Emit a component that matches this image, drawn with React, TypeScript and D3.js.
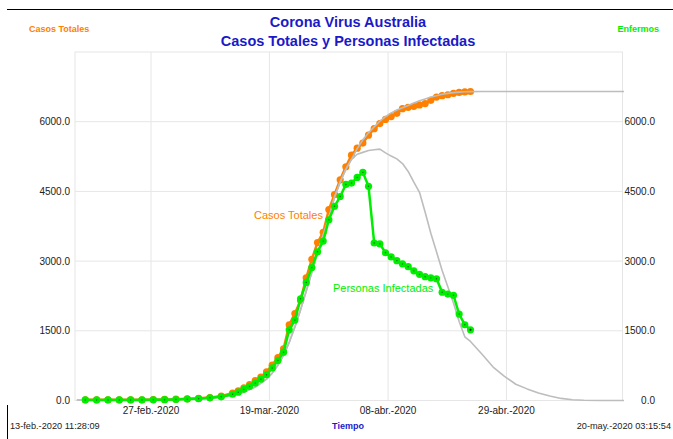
import React from "react";
import * as d3 from "d3";

// Observed data (day index since 13-feb-2020)
const obsDays = [2, 4, 6, 8, 10, 12, 14, 16, 18, 20, 22, 24, 26, 28, 29, 30, 31, 32, 33, 34, 35, 36, 37, 38, 39, 40, 41, 42, 43, 44, 45, 46, 47, 48, 49, 50, 51, 52, 53, 54, 55, 56, 57, 58, 59, 60, 61, 62, 63, 64, 65, 66, 67, 68, 69, 70];
const casosTotales = [15, 15, 15, 15, 15, 15, 20, 23, 28, 38, 48, 62, 95, 160, 210, 270, 340, 430, 505, 615, 760, 925, 1110, 1630, 1870, 2150, 2640, 3040, 3400, 3620, 4110, 4430, 4750, 5030, 5280, 5430, 5540, 5710, 5850, 5960, 6050, 6110, 6180, 6280, 6310, 6330, 6360, 6390, 6460, 6530, 6560, 6580, 6610, 6630, 6640, 6650];
const personasInfectadas = [12, 12, 12, 12, 12, 12, 14, 17, 22, 30, 40, 58, 80, 135, 180, 240, 305, 375, 460, 555, 700, 860, 1040, 1520, 1730, 2190, 2540, 2860, 3200, 3430, 3890, 4180, 4390, 4650, 4680, 4800, 4910, 4610, 3390, 3370, 3180, 3090, 3010, 2940, 2880, 2790, 2715, 2665, 2640, 2620, 2330, 2290, 2265, 1860, 1630, 1520];

// Model (simulation) curves
const modelDays = [0.5, 5, 10, 15, 20, 22, 24, 26, 28, 30, 32, 34, 35, 36, 37, 38, 39, 40, 41, 42, 43, 44, 45, 46, 47, 48, 49, 50, 51, 52, 53, 54, 55, 56, 57, 58, 59, 60, 61, 62, 63, 64, 65, 66, 67, 68, 69, 70, 72, 74, 76, 78, 80, 82, 84, 86, 88, 90, 93, 97.1];
const modelTotales = [10, 12, 14, 18, 28, 38, 52, 75, 115, 180, 290, 460, 590, 760, 970, 1250, 1580, 1950, 2350, 2760, 3170, 3560, 3920, 4380, 4700, 4980, 5190, 5420, 5610, 5760, 5890, 6010, 6110, 6190, 6250, 6300, 6350, 6400, 6450, 6490, 6530, 6560, 6590, 6610, 6625, 6636, 6643, 6647, 6650, 6650, 6650, 6650, 6650, 6650, 6650, 6650, 6650, 6650, 6650, 6650];
const modelInfectados = [10, 12, 14, 18, 28, 38, 52, 75, 115, 180, 290, 460, 590, 760, 970, 1250, 1580, 1950, 2350, 2760, 3170, 3560, 3920, 4380, 4700, 4980, 5190, 5300, 5340, 5380, 5395, 5410, 5330, 5260, 5200, 5100, 4930, 4700, 4480, 4050, 3600, 3200, 2800, 2450, 2100, 1700, 1370, 1270, 1000, 720, 520, 350, 250, 160, 95, 45, 15, 5, 0, 0];

const yTicks = [0, 1500, 3000, 4500, 6000];
const xTickDays = [13.6, 34.5, 55.45, 76.35];
const xTickLabels = ["27-feb.-2020", "19-mar.-2020", "08-abr.-2020", "29-abr.-2020"];

const W = 673;
const H = 439;
const FONT = "'Liberation Sans', Arial, Helvetica, sans-serif";
const ORANGE = "#ff8000";
const GREEN = "#00ee00";
const GRAY = "#bdbdbd";
const BLUE = "#1a1ac8";

export default function App() {
  const x = d3.scaleLinear().domain([0.18, 96.84]).range([75, 622.5]);
  const y = d3.scaleLinear().domain([0, 7500]).range([400.5, 52]);

  const line = d3
    .line<[number, number]>()
    .x((d) => x(d[0]))
    .y((d) => y(d[1]));

  const obsT = obsDays.map((d, i) => [d, casosTotales[i]] as [number, number]);
  const obsI = obsDays.map((d, i) => [d, personasInfectadas[i]] as [number, number]);
  const modT = modelDays.map((d, i) => [d, modelTotales[i]] as [number, number]);
  const modI = modelDays.map((d, i) => [d, modelInfectados[i]] as [number, number]);

  const [x0, x1] = x.range();
  const [yb, yt] = y.range();

  return (
    <svg
      width={W}
      height={H}
      style={{ position: "absolute", left: 0, top: 0, background: "#fff" }}
      fontFamily={FONT}
    >
      <rect x={0} y={0} width={W} height={H} fill="#fff" />
      {/* frame lines */}
      <line x1={7} x2={W} y1={9.5} y2={9.5} stroke="#000" strokeWidth={1} />
      <line x1={7.5} x2={7.5} y1={405} y2={H} stroke="#000" strokeWidth={1} />

      {/* titles */}
      <text x={348} y={27} textAnchor="middle" fontSize={14.5} fontWeight="bold" fill={BLUE}>
        Corona Virus Australia
      </text>
      <text x={348} y={45.5} textAnchor="middle" fontSize={14.5} fontWeight="bold" fill={BLUE}>
        Casos Totales y Personas Infectadas
      </text>
      <text x={29} y={31.5} fontSize={9} fontWeight="bold" fill={ORANGE}>
        Casos Totales
      </text>
      <text x={659} y={31.5} textAnchor="end" fontSize={9} fontWeight="bold" fill={GREEN}>
        Enfermos
      </text>

      {/* grid */}
      <rect x={x0} y={yt} width={x1 - x0} height={yb - yt} fill="none" stroke="#e6e6e6" strokeWidth={1} />
      {yTicks.map((t) => (
        <line key={"gy" + t} x1={x0} x2={x1} y1={y(t)} y2={y(t)} stroke="#e6e6e6" strokeWidth={1} />
      ))}
      {xTickDays.map((d) => (
        <line key={"gx" + d} x1={x(d)} x2={x(d)} y1={yt} y2={yb} stroke="#e6e6e6" strokeWidth={1} />
      ))}

      {/* axis labels */}
      {yTicks.map((t) => (
        <text key={"ly" + t} x={70} y={y(t) + 3.5} textAnchor="end" fontSize={10} fill="#222">
          {t.toFixed(1)}
        </text>
      ))}
      {yTicks.map((t) => (
        <text key={"ry" + t} x={655} y={y(t) + 3.5} textAnchor="end" fontSize={10} fill="#222">
          {t.toFixed(1)}
        </text>
      ))}
      {xTickDays.map((d, i) => (
        <text key={"lx" + d} x={x(d)} y={414} textAnchor="middle" fontSize={10} fill="#222">
          {xTickLabels[i]}
        </text>
      ))}
      <text x={10} y={428.5} fontSize={9.2} fill="#222">
        13-feb.-2020 11:28:09
      </text>
      <text x={348} y={428.5} textAnchor="middle" fontSize={9} fontWeight="bold" fill={BLUE}>
        Tiempo
      </text>
      <text x={671} y={428.5} textAnchor="end" fontSize={9.2} fill="#222">
        20-may.-2020 03:15:54
      </text>

      {/* orange observed total */}
      <path d={line(obsT) || ""} fill="none" stroke={ORANGE} strokeWidth={2.5} strokeLinejoin="round" />
      {obsT.map((p, i) => (
        <circle key={"ot" + i} cx={x(p[0])} cy={y(p[1])} r={3.6} fill={ORANGE} />
      ))}

      {/* model curves */}
      <path d={line(modT) || ""} fill="none" stroke={GRAY} strokeWidth={1.6} strokeLinejoin="round" />
      <path d={line(modI) || ""} fill="none" stroke={GRAY} strokeWidth={1.6} strokeLinejoin="round" />

      {/* green observed infected */}
      <path d={line(obsI) || ""} fill="none" stroke={GREEN} strokeWidth={2.5} strokeLinejoin="round" />
      {obsI.map((p, i) => (
        <g key={"oi" + i}>
          <circle cx={x(p[0])} cy={y(p[1])} r={3.6} fill={GREEN} />
          <circle
            cx={x(p[0])}
            cy={y(p[1])}
            r={i === obsI.length - 1 ? 1 : 0.7}
            fill={i === obsI.length - 1 ? "#000" : "#0a6a0a"}
          />
        </g>
      ))}

      {/* in-plot labels */}
      <text x={254} y={219} fontSize={11} fill={ORANGE}>
        Casos Totales
      </text>
      <text x={333} y={292} fontSize={11} fill={GREEN}>
        Personas Infectadas
      </text>
    </svg>
  );
}
